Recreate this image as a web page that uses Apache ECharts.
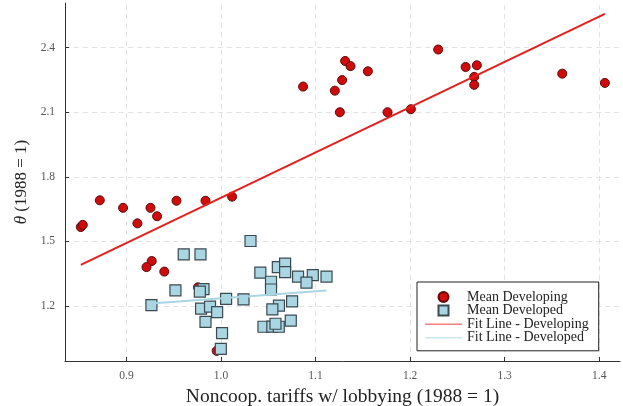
<!DOCTYPE html>
<html>
<head>
<meta charset="utf-8">
<script src="https://cdn.jsdelivr.net/npm/echarts@6/dist/echarts.min.js"></script>
<style>
  html, body { margin: 0; padding: 0; background: #fff; }
  #chart { width: 623px; height: 406px; }
</style>
</head>
<body>
<div id="chart"></div>
<script>
// Mean developing economies: [noncoop. tariff index, theta]
const developing = [
  [0.8517, 1.567], [0.8538, 1.577], [0.8718, 1.691], [0.8964, 1.656],
  [0.9116, 1.584], [0.9254, 1.656], [0.9324, 1.617], [0.9529, 1.689],
  [0.9836, 1.689], [1.0117, 1.708], [0.9267, 1.409], [0.9212, 1.381],
  [0.9400, 1.360], [0.9757, 1.287], [0.9954, 0.992], [1.0868, 2.219],
  [1.1204, 2.200], [1.1281, 2.249], [1.1313, 2.338], [1.1370, 2.314],
  [1.1553, 2.290], [1.1257, 2.100], [1.1761, 2.100], [1.2008, 2.114],
  [1.2297, 2.391], [1.2587, 2.310], [1.2706, 2.318], [1.2678, 2.264],
  [1.2678, 2.227], [1.3609, 2.279], [1.4060, 2.236]
];

// Mean developed economies
const developed = [
  [0.9264, 1.204], [0.9518, 1.273], [0.9606, 1.440], [0.9783, 1.440],
  [0.9815, 1.279], [0.9776, 1.267], [0.9789, 1.188], [0.9884, 1.197],
  [0.9959, 1.172], [0.9836, 1.127], [1.0011, 1.074], [0.9998, 1.001],
  [1.0054, 1.233], [1.0238, 1.231], [1.0312, 1.502], [1.0416, 1.355],
  [1.0601, 1.381], [1.0678, 1.397], [1.0678, 1.358], [1.0529, 1.313],
  [1.0529, 1.277], [1.0815, 1.337], [1.0971, 1.344], [1.0904, 1.309],
  [1.1116, 1.337], [1.0613, 1.202], [1.0543, 1.185], [1.0752, 1.222],
  [1.0738, 1.132], [1.0449, 1.104], [1.0543, 1.105], [1.0611, 1.104],
  [1.0576, 1.118]
];

// Fitted lines (end points)
const fitDeveloping = [[0.8517, 1.391], [1.4060, 2.5565]];
const fitDeveloped = [[0.9264, 1.212], [1.1116, 1.2725]];

// Axis ticks
const xTicks = [0.9, 1.0, 1.1, 1.2, 1.3, 1.4];
const yTicks = [1.2, 1.5, 1.8, 2.1, 2.4];

const xRange = [0.835, 1.422];
const yRange = [0.945, 2.607];

const serif = '"Liberation Serif", "DejaVu Serif", serif';
const gridStyle = { color: '#e3e3e3', width: 1, type: [5, 4] };
const lineIcon = 'path://M0,0L40,0L40,1.6L0,1.6Z';
const squareIcon = 'path://M0,0L10,0L10,10L0,10Z';

const chart = echarts.init(document.getElementById('chart'), null, { renderer: 'canvas' });

chart.setOption({
  animation: false,
  backgroundColor: '#ffffff',
  grid: { left: 65, right: 3, top: 3, bottom: 45, containLabel: false, outerBoundsMode: 'none' },
  xAxis: {
    type: 'value',
    min: xRange[0],
    max: xRange[1],
    name: 'Noncoop. tariffs w/ lobbying (1988 = 1)',
    nameLocation: 'middle',
    nameGap: 22,
    nameTextStyle: { fontFamily: serif, fontSize: 19.5, color: '#222' },
    axisLine: { show: true, lineStyle: { color: '#333', width: 1 } },
    axisTick: { show: true, inside: true, length: 4, customValues: xTicks, lineStyle: { color: '#333' } },
    axisLabel: {
      customValues: xTicks, margin: 9,
      fontFamily: serif, fontSize: 11.5, color: '#555',
      formatter: v => v.toFixed(1)
    },
    splitLine: { show: false }
  },
  yAxis: {
    type: 'value',
    min: yRange[0],
    max: yRange[1],
    name: '{i|θ} (1988 = 1)',
    nameLocation: 'middle',
    nameGap: 29,
    nameRotate: 90,
    nameTextStyle: {
      fontFamily: serif, fontSize: 17, color: '#222',
      rich: { i: { fontFamily: serif, fontSize: 17, fontStyle: 'italic', color: '#222' } }
    },
    axisLine: { show: true, lineStyle: { color: '#333', width: 1 } },
    axisTick: { show: true, inside: true, length: 4, customValues: yTicks, lineStyle: { color: '#333' } },
    axisLabel: {
      customValues: yTicks, margin: 10,
      fontFamily: serif, fontSize: 11.5, color: '#555',
      formatter: v => v.toFixed(1)
    },
    splitLine: { show: false }
  },
  legend: {
    orient: 'vertical',
    left: 417,
    top: 282,
    padding: [8, 10, 6, 8],
    itemWidth: 37,
    itemHeight: 10,
    itemGap: -0.4,
    symbolKeepAspect: true,
    backgroundColor: '#ffffff',
    borderColor: '#222',
    borderWidth: 1,
    borderRadius: 0,
    textStyle: { fontFamily: serif, fontSize: 14, color: '#222' },
    data: [
      { name: 'Mean Developing', icon: 'circle' },
      { name: 'Mean Developed', icon: squareIcon },
      { name: 'Fit Line - Developing', icon: lineIcon },
      { name: 'Fit Line - Developed', icon: lineIcon }
    ]
  },
  series: [
    {
      // dashed grid lines at the tick positions
      type: 'line',
      data: [],
      silent: true,
      z: 0,
      markLine: {
        z: 0,
        silent: true,
        symbol: 'none',
        label: { show: false },
        lineStyle: gridStyle,
        data: xTicks.map(v => ({ xAxis: v })).concat(yTicks.map(v => ({ yAxis: v })))
      }
    },
    {
      name: 'Mean Developing',
      type: 'scatter',
      symbol: 'circle',
      symbolSize: 9,
      data: developing,
      itemStyle: { color: '#d10a0a', borderColor: '#5c0a0a', borderWidth: 1, opacity: 1 },
      z: 2
    },
    {
      name: 'Mean Developed',
      type: 'scatter',
      symbol: 'rect',
      symbolSize: 11,
      data: developed,
      itemStyle: { color: '#a9d6e2', borderColor: '#3a4a50', borderWidth: 1.2, opacity: 1 },
      z: 3
    },
    {
      name: 'Fit Line - Developing',
      type: 'line',
      data: fitDeveloping,
      symbol: 'none',
      lineStyle: { color: '#e61e1e', width: 2 },
      itemStyle: { color: '#f08080' },
      z: 4
    },
    {
      name: 'Fit Line - Developed',
      type: 'line',
      data: fitDeveloped,
      symbol: 'none',
      lineStyle: { color: '#a9d6e2', width: 2 },
      itemStyle: { color: '#cfe6ee' },
      z: 4
    }
  ]
});
</script>
</body>
</html>
